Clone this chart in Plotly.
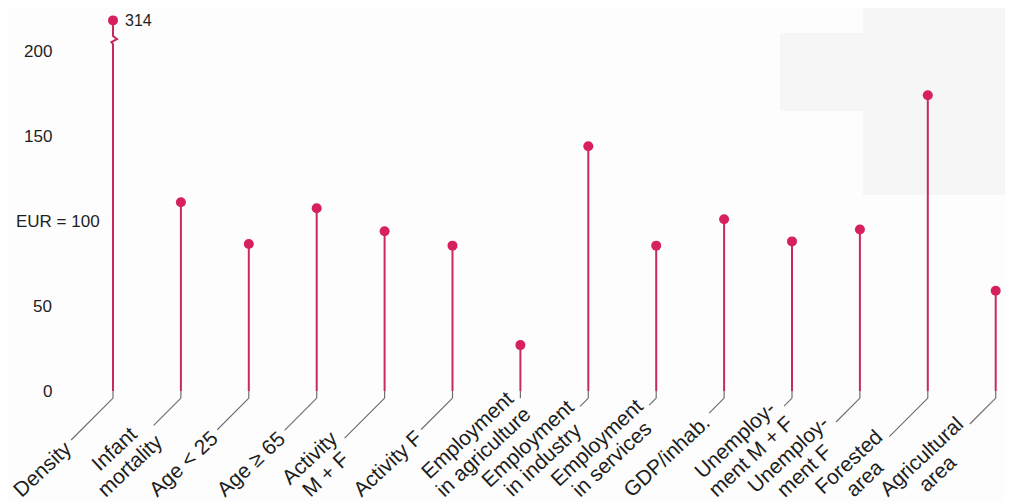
import math
import plotly.graph_objects as go

# ---------------- data ----------------
categories = [
    ["Density"], ["Infant", "mortality"], ["Age &lt; 25"], ["Age ≥ 65"],
    ["Activity", "M + F"], ["Activity F"], ["Employment", "in agriculture"],
    ["Employment", "in industry"], ["Employment", "in services"], ["GDP/inhab."],
    ["Unemploy-", "ment M + F"], ["Unemploy-", "ment F"], ["Forested", "area"],
    ["Agricultural", "area"],
]
values = [314, 111, 86.5, 107.5, 94, 85.5, 27, 144, 85.5, 101, 88, 95, 174, 59]
tick_values = [0, 50, 100, 150, 200]
tick_labels = ["0", "50", "EUR = 100", "150", "200"]
axis_break_top = 218   # drawn position of values beyond the broken axis
axis_break_at = 204    # where the zig-zag break sits

# ---------------- styling / geometry ----------------
STEM = "#c82a5f"
DOT = "#d6215d"
GREY = "#707070"
TXT = "#1e1e1e"
FONT = "Liberation Sans, Arial, Helvetica, sans-serif"
OFF = 8                       # page body margin
PAGE_W, PAGE_H = 1013, 502
W, H = PAGE_W - OFF, PAGE_H - OFF
PX_PER_UNIT = 1.7
X0_PX, DX_PX = 113, 67.9      # page px of first category, spacing
Y200_PX = 51                  # page px of value 200
LEADER_Y = -4.2               # bottom of the short vertical leader piece

y_top = 200 + (Y200_PX - OFF) / PX_PER_UNIT
y_bot = y_top - H / PX_PER_UNIT
x_lo = -(X0_PX - OFF) / DX_PX
x_hi = x_lo + W / DX_PX


def paper_x(page_px):
    return (page_px - OFF) / W


def paper_y(page_px):
    return 1 - (page_px - OFF) / H


xs = list(range(len(categories)))
disp = [min(v, axis_break_top) for v in values]

# Arial advance widths (1/1000 em) to size the rotated labels
AW = {' ': 278, 'A': 667, 'D': 722, 'E': 667, 'F': 611, 'G': 778, 'M': 833,
      'P': 667, 'U': 722, 'I': 278, 'a': 556, 'b': 556, 'c': 500, 'd': 556,
      'e': 556, 'f': 278, 'g': 556, 'h': 556, 'i': 222, 'l': 222, 'm': 833,
      'n': 556, 'o': 556, 'p': 556, 'r': 333, 's': 500, 't': 278, 'u': 556,
      'v': 500, 'y': 500, '.': 278, '/': 278, '-': 333, '<': 584, '≥': 549,
      '+': 584}
LFS = 21
LINE_SP = 1.08 * LFS


def text_w(line):
    line = line.replace("&lt;", "<")
    return sum(AW.get(c, 556) for c in line) * LFS / 1000


fig = go.Figure()

# faint scanned-page patches
fig.add_shape(type="rect", xref="paper", yref="paper", x0=paper_x(863), x1=1,
              y0=paper_y(195), y1=1, fillcolor="#f6f6f6", line_width=0, layer="below")
fig.add_shape(type="rect", xref="paper", yref="paper", x0=paper_x(780), x1=paper_x(863),
              y0=paper_y(111), y1=paper_y(33), fillcolor="#f6f6f6", line_width=0, layer="below")

# short grey leader stubs below zero
sx, sy = [], []
for x in xs:
    sx += [x, x, None]
    sy += [0, LEADER_Y, None]
fig.add_trace(go.Scatter(x=sx, y=sy, mode="lines", line=dict(color=GREY, width=1.2),
                         hoverinfo="skip", showlegend=False))

# stems
stx, sty = [], []
for x, v, d in zip(xs, values, disp):
    if v > axis_break_top:
        zz = 4 / DX_PX
        b = axis_break_at
        stx += [x, x, x - 0.4 * zz, x + zz, x, x, None]
        sty += [0, b, b + 1.2, b + 3.0, b + 4.8, d, None]
    else:
        stx += [x, x, None]
        sty += [0, d, None]
fig.add_trace(go.Scatter(x=stx, y=sty, mode="lines", line=dict(color=STEM, width=2),
                         hoverinfo="skip", showlegend=False))

# dots
fig.add_trace(go.Scatter(x=xs, y=disp, mode="markers",
                         marker=dict(color=DOT, size=10, line=dict(width=0)),
                         showlegend=False))

annotations = []
# value label of the broken bar
for x, v, d in zip(xs, values, disp):
    if v > axis_break_top:
        annotations.append(dict(x=x, y=d, xref="x", yref="y", text=str(v), showarrow=False,
                                xanchor="left", yanchor="middle", xshift=10,
                                font=dict(family=FONT, size=16, color=TXT)))

# y tick labels
for tv, tl in zip(tick_values, tick_labels):
    if tl.isdigit():
        annotations.append(dict(x=paper_x(54), y=tv, xref="paper", yref="y", text=tl,
                                showarrow=False, xanchor="right", yanchor="middle",
                                font=dict(family=FONT, size=17, color=TXT)))
    else:
        annotations.append(dict(x=paper_x(14), y=tv, xref="paper", yref="y", text=tl,
                                showarrow=False, xanchor="left", yanchor="middle",
                                font=dict(family=FONT, size=17, color=TXT)))

# rotated category labels with diagonal leaders
A_T = math.radians(43)   # text angle
A_L = math.radians(45)   # leader angle
DROP = 99                # px from leader start down to lowest label point
for x, lines in zip(xs, categories):
    n = len(lines)
    ws = [text_w(l) for l in lines]
    offs = [(k - (n - 1) / 2) * LINE_SP for k in range(n)]
    low = max(o * math.cos(A_T) + (w / 2) * math.sin(A_T) for o, w in zip(offs, ws))
    low += 0.3 * LFS * math.cos(A_T)
    L = (DROP - low) / math.sin(A_L)
    cx, cy = -L * math.cos(A_L), L * math.sin(A_L)   # block centre relative to leader start
    # leader (arrow clipped by invisible rotated box of the label block)
    annotations.append(dict(
        x=x, y=LEADER_Y, xref="x", yref="y", text=" ", showarrow=True,
        arrowhead=0, arrowwidth=1.2, arrowcolor=GREY, standoff=0, startstandoff=3,
        ax=cx, ay=cy, textangle=-math.degrees(A_T),
        width=max(ws) + 2, height=(n - 1) * LINE_SP + LFS * 0.9,
        font=dict(family=FONT, size=4, color="rgba(0,0,0,0)")))
    # label lines
    for line, o in zip(lines, offs):
        lx = cx + o * math.sin(A_T)
        ly = cy + o * math.cos(A_T)
        annotations.append(dict(
            x=x, y=LEADER_Y, xref="x", yref="y", text=line, showarrow=False,
            xanchor="center", yanchor="middle", xshift=lx, yshift=-ly,
            textangle=-math.degrees(A_T),
            font=dict(family=FONT, size=LFS, color=TXT)))

fig.update_layout(
    width=W, height=H, margin=dict(l=0, r=0, t=0, b=0),
    paper_bgcolor="#fdfdfd", plot_bgcolor="rgba(0,0,0,0)",
    xaxis=dict(range=[x_lo, x_hi], visible=False, fixedrange=True),
    yaxis=dict(range=[y_bot, y_top], visible=False, fixedrange=True),
    annotations=annotations, showlegend=False,
)

fig.write_html("out.html", config={"displayModeBar": False})
